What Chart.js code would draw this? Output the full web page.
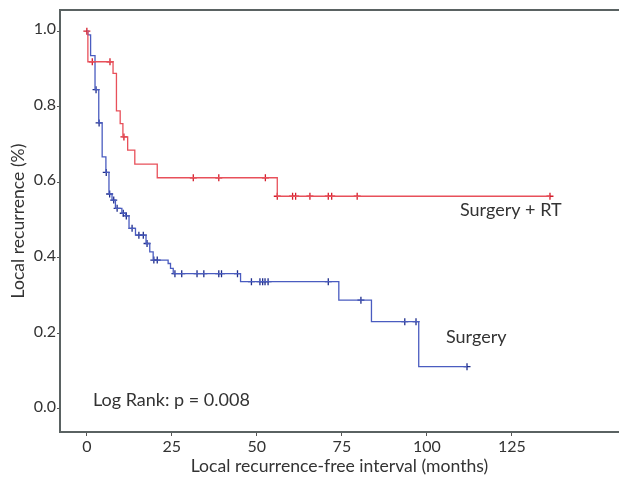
<!DOCTYPE html>
<html>
<head>
<meta charset="utf-8">
<script src="https://cdn.jsdelivr.net/npm/chart.js"></script>
<style>
  html, body { margin: 0; padding: 0; background: #fff; overflow: hidden; }
  #wrap { width: 619px; height: 479px; }
</style>
</head>
<body>
<div id="wrap"><canvas id="km"></canvas></div>
<script>
// Kaplan-Meier steps (months, survival)
const rtTimes = [0, 0.3, 7.7, 8.7, 9.8, 10.6, 12.0, 14.1, 20.7, 56.0, 136.2];
const rtSurv  = [1.0, 0.919, 0.888, 0.789, 0.755, 0.72, 0.685, 0.648, 0.612, 0.563, 0.563];
const rtCensored = [0, 1.6, 6.8, 10.9, 31.3, 38.8, 52.5, 56.0, 60.5, 61.4, 65.6, 71.0, 72.0, 79.5, 136.2];

const surgTimes = [0, 0.3, 1.1, 2.4, 3.5, 4.5, 5.6, 6.5, 7.4, 8.4, 10.3, 11.4, 12.4, 14.3, 17.4, 18.5, 19.5, 23.9, 24.6, 25.4, 45.2, 74.1, 83.7, 97.6, 111.8];
const surgSurv  = [1.0, 0.99, 0.935, 0.845, 0.757, 0.667, 0.626, 0.569, 0.553, 0.531, 0.518, 0.511, 0.478, 0.46, 0.438, 0.416, 0.394, 0.385, 0.372, 0.358, 0.337, 0.288, 0.231, 0.112, 0.112];
const surgCensored = [2.7, 3.6, 5.7, 6.7, 7.9, 8.9, 10.7, 11.6, 13.3, 15.3, 16.6, 17.7, 19.7, 20.7, 25.9, 27.9, 32.4, 34.4, 38.8, 39.6, 44.3,
                      48.4, 50.9, 51.7, 52.4, 53.3, 71.0, 80.6, 93.5, 96.8, 111.8];

const xTicks = [0, 25, 50, 75, 100, 125];
const yTicks = [0, 0.2, 0.4, 0.6, 0.8, 1.0];

const RED = '#e8505a', RED_MARK = '#d41c2a';
const BLUE = '#4a5cc0', BLUE_MARK = '#1e2d8c';

function survAt(times, surv, t) {
    let s = surv[0];
    for (let i = 0; i < times.length; i++) {
        if (times[i] <= t) s = surv[i];
    }
    return s;
}

const steps = (times, surv) => times.map((t, i) => ({ x: t, y: surv[i] }));
const marks = (cens, times, surv) => cens.map(t => ({ x: t, y: survAt(times, surv, t) }));

const frameAndText = {
    id: 'frameAndText',
    afterDraw(chart) {
        const { ctx, chartArea } = chart;
        ctx.save();
        ctx.strokeStyle = '#5a6262';
        ctx.lineWidth = 2;
        ctx.beginPath();
        ctx.moveTo(chartArea.left, chartArea.top);
        ctx.lineTo(chartArea.right, chartArea.top);
        ctx.stroke();

        ctx.fillStyle = '#333';
        ctx.font = '18px Lato';
        ctx.textBaseline = 'middle';
        ctx.textAlign = 'left';
        ctx.fillText('Surgery + RT', 460, 210);
        ctx.fillText('Surgery', 446, 337);
        ctx.fillText('Log Rank: p = 0.008', 93, 400);
        ctx.restore();
    }
};

new Chart(document.getElementById('km'), {
    type: 'line',
    data: {
        datasets: [
            {
                label: 'Surgery + RT',
                data: steps(rtTimes, rtSurv),
                stepped: 'before',
                borderColor: RED,
                borderWidth: 1.3,
                pointRadius: 0,
                fill: false
            },
            {
                label: 'Surgery',
                data: steps(surgTimes, surgSurv),
                stepped: 'before',
                borderColor: BLUE,
                borderWidth: 1.3,
                pointRadius: 0,
                fill: false
            },
            {
                type: 'scatter',
                data: marks(rtCensored, rtTimes, rtSurv),
                pointStyle: 'cross',
                pointRadius: 3.5,
                borderColor: RED_MARK,
                borderWidth: 1.3,
                showLine: false
            },
            {
                type: 'scatter',
                data: marks(surgCensored, surgTimes, surgSurv),
                pointStyle: 'cross',
                pointRadius: 3.5,
                borderColor: BLUE_MARK,
                borderWidth: 1.3,
                showLine: false
            }
        ]
    },
    options: {
        responsive: true,
        maintainAspectRatio: false,
        animation: false,
        events: [],
        layout: { autoPadding: false, padding: { top: 10, right: 0, left: 0, bottom: 0 } },
        plugins: { legend: { display: false }, tooltip: { enabled: false } },
        scales: {
            x: {
                type: 'linear',
                min: -7.9,
                max: 156.5,
                afterFit: s => { s.height = 47; s.paddingLeft = 0; s.paddingRight = 0; },
                afterBuildTicks: s => { s.ticks = xTicks.map(v => ({ value: v })); },
                grid: { drawOnChartArea: false, drawTicks: true, tickLength: 4, color: '#555' },
                border: { display: true, color: '#5a6262', width: 2 },
                ticks: { color: '#333', font: { family: 'Lato', size: 16 }, padding: 1, maxRotation: 0 },
                title: {
                    display: true,
                    text: 'Local recurrence-free interval (months)',
                    color: '#333',
                    font: { family: 'Lato', size: 17.6 },
                    padding: { top: 0, bottom: 2 }
                }
            },
            y: {
                min: -0.061,
                max: 1.056,
                afterFit: s => { s.width = 60; s.paddingTop = 0; s.paddingBottom = 0; },
                afterBuildTicks: s => { s.ticks = yTicks.map(v => ({ value: v })); },
                grid: { drawOnChartArea: false, drawTicks: true, tickLength: 3, color: '#555' },
                border: { display: true, color: '#5a6262', width: 2 },
                ticks: {
                    color: '#333',
                    font: { family: 'Lato', size: 16 },
                    padding: 1,
                    labelOffset: -2,
                    callback: v => v.toFixed(1)
                },
                title: {
                    display: true,
                    text: 'Local recurrence (%)',
                    color: '#333',
                    font: { family: 'Lato', size: 17.6 },
                    padding: { top: 8, bottom: 0 }
                }
            }
        }
    },
    plugins: [frameAndText]
});
</script>
</body>
</html>
